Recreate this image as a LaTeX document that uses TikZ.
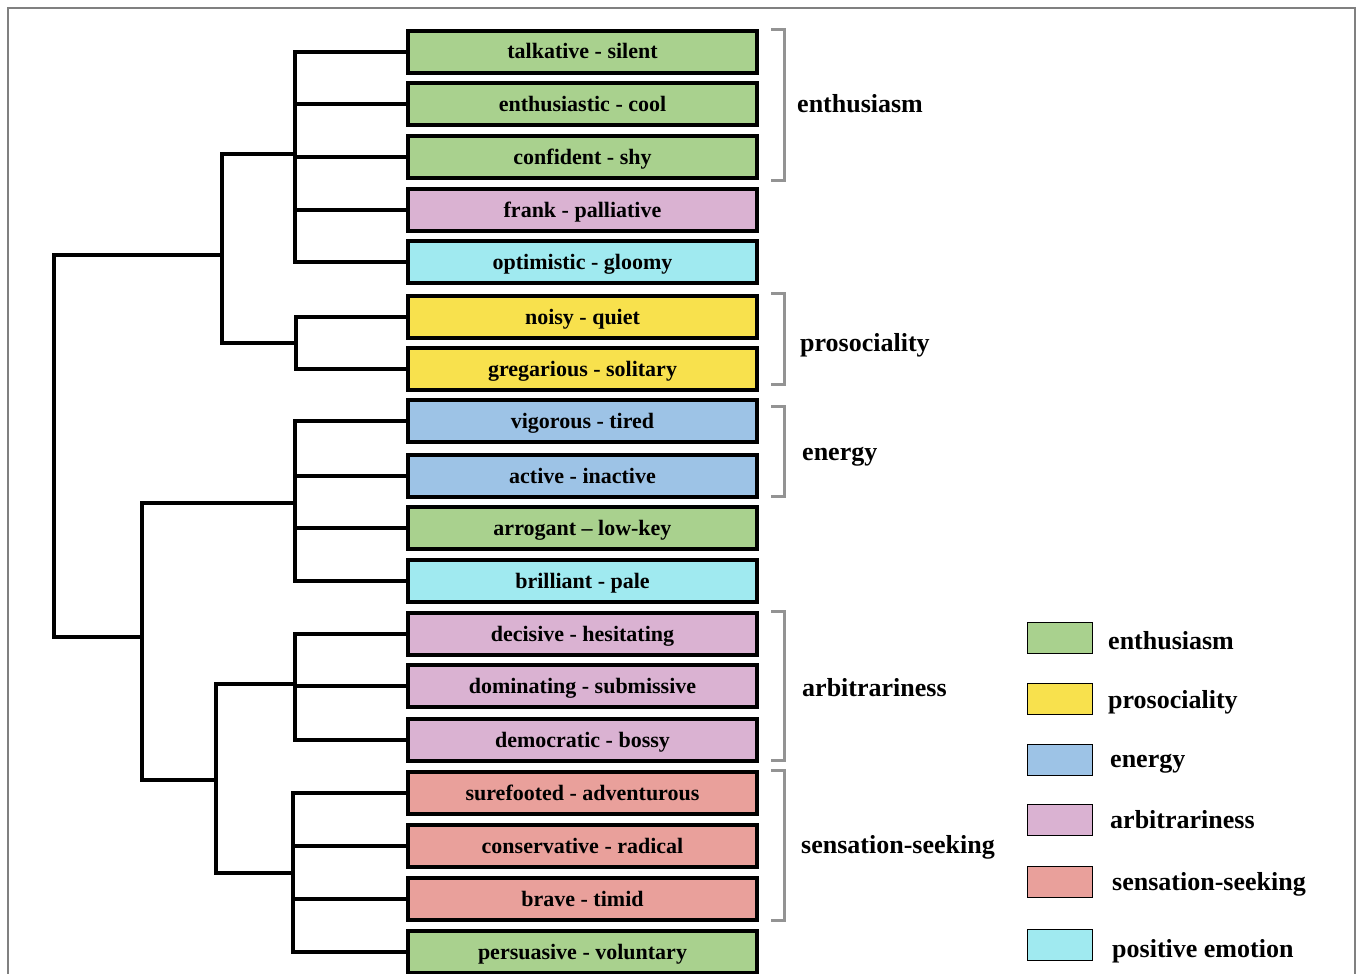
\documentclass[tikz,border=0pt]{standalone}
\usepackage{fontspec}
\setmainfont{Liberation Serif}

\definecolor{grn}{HTML}{A9D18E}
\definecolor{ylw}{HTML}{F8E14D}
\definecolor{blu}{HTML}{9DC3E6}
\definecolor{pnk}{HTML}{DAB2D2}
\definecolor{sal}{HTML}{E9A09B}
\definecolor{cyn}{HTML}{A0EAF0}

\tikzset{
  pair/.style={draw, line width=4pt, minimum width=349pt, minimum height=42pt,
    inner sep=0pt, text height=14pt, text depth=0pt,
    font=\fontsize{22}{24}\selectfont\bfseries},
  tree/.style={line width=4pt},
  brace/.style={gray!85, line width=3pt},
  grp/.style={anchor=base west, inner sep=0pt, font=\fontsize{26}{28}\selectfont\bfseries},
  swatch/.style={draw, line width=1.5pt, minimum width=65pt, minimum height=31pt, inner sep=0pt},
}

\begin{document}
\begin{tikzpicture}[x=1pt, y=-1pt]
    \useasboundingbox (0,0) rectangle (1358,974);
    % frame
    \draw[gray, line width=1.5pt] (8,990) -- (8,8) -- (1355,8) -- (1355,990);

    % adjective pairs
    \foreach \i/\y/\c/\t in {
      1/52/grn/talkative - silent, 2/104/grn/enthusiastic - cool,
      3/157/grn/confident - shy, 4/210/pnk/frank - palliative,
      5/262/cyn/optimistic - gloomy, 6/317/ylw/noisy - quiet,
      7/369/ylw/gregarious - solitary, 8/421/blu/vigorous - tired,
      9/476/blu/active - inactive, 10/528/grn/arrogant -- low-key,
      11/581/cyn/brilliant - pale, 12/634/pnk/decisive - hesitating,
      13/686/pnk/dominating - submissive, 14/740/pnk/democratic - bossy,
      15/793/sal/surefooted - adventurous, 16/846/sal/conservative - radical,
      17/899/sal/brave - timid, 18/952/grn/persuasive - voluntary}
      \node[pair, fill=\c] (b\i) at (582.5,\y) {\t};

    % joints of the dendrogram
    \coordinate (A) at (295,154);
    \coordinate (B) at (296,343);
    \coordinate (AB) at (222,255);
    \coordinate (C) at (295,503);
    \coordinate (D) at (295,684);
    \coordinate (E) at (293,873);
    \coordinate (DE) at (216,780);
    \coordinate (CDE) at (142,637);
    \coordinate (R) at (54,446);

    % leaves
    \draw[tree] (b1.west) -| (A) |- (b5.west);
    \foreach \i in {2,3,4} \draw[tree] (b\i.west) -- (b\i.west -| A);
    \draw[tree] (b6.west) -| (B) |- (b7.west);
    \draw[tree] (b8.west) -| (C) |- (b11.west);
    \foreach \i in {9,10} \draw[tree] (b\i.west) -- (b\i.west -| C);
    \draw[tree] (b12.west) -| (D) |- (b14.west);
    \draw[tree] (b13.west) -- (b13.west -| D);
    \draw[tree] (b15.west) -| (E) |- (b18.west);
    \foreach \i in {16,17} \draw[tree] (b\i.west) -- (b\i.west -| E);

    % upper levels
    \draw[tree] (A) -| (AB) |- (B);
    \draw[tree] (D) -| (DE) |- (E);
    \draw[tree] (C) -| (CDE) |- (DE);
    \draw[tree] (AB) -| (R) |- (CDE);

    % brackets
    \draw[brace] (771,30) -- (784,30) -- (784,180) -- (771,180);
    \draw[brace] (771,293) -- (784,293) -- (784,384) -- (771,384);
    \draw[brace] (771,406) -- (784,406) -- (784,496) -- (771,496);
    \draw[brace] (771,611) -- (784,611) -- (784,760) -- (771,760);
    \draw[brace] (771,770) -- (784,770) -- (784,920) -- (771,920);
    \node[grp] (genth) at (797,113) {enthusiasm};
    \node[grp] (gpros) at (800,351) {prosociality};
    \node[grp] (gener) at (802,460) {energy};
    \node[grp] (garb) at (802,696) {arbitrariness};
    \node[grp] (gsens) at (801,853) {sensation-seeking};

    % legend
    \node[swatch, fill=grn] (k1) at (1060,638) {};
    \node[swatch, fill=ylw] (k2) at (1060,699) {};
    \node[swatch, fill=blu] (k3) at (1060,760) {};
    \node[swatch, fill=pnk] (k4) at (1060,820) {};
    \node[swatch, fill=sal] (k5) at (1060,882) {};
    \node[swatch, fill=cyn] (k6) at (1060,945) {};
    \node[grp] (l1) at (1108,649) {enthusiasm};
    \node[grp] (l2) at (1108,708) {prosociality};
    \node[grp] (l3) at (1110,767) {energy};
    \node[grp] (l4) at (1110,828) {arbitrariness};
    \node[grp] (l5) at (1112,890) {sensation-seeking};
    \node[grp] (l6) at (1112,957) {positive emotion};
\end{tikzpicture}
\end{document}
